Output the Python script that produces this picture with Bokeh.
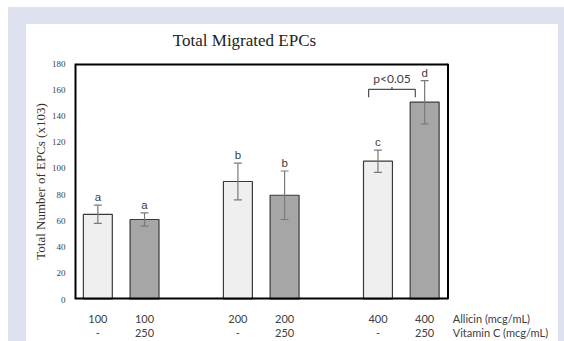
from bokeh.plotting import figure
from bokeh.models import Range1d, FixedTicker, LinearAxis, ColumnDataSource
from bokeh.core.properties import value
from bokeh.embed import file_html
from bokeh.resources import INLINE

# ---- data ----
allicin = ["100", "100", "200", "200", "400", "400"]
vitamin_c = ["-", "250", "-", "250", "-", "250"]
slots = [0, 1, 3, 4, 6, 7]          # 8 category slots, two empty gaps
means = [65, 61, 90, 79.5, 105.5, 150.5]
errors = [7, 5, 14, 18.5, 8.5, 16.5]
letters = ["a", "a", "b", "b", "c", "d"]
y_ticks = [0, 20, 40, 60, 80, 100, 120, 140, 160, 180]
row_names = ["Allicin (mcg/mL)", "Vitamin C (mcg/mL)"]
title_text = "Total Migrated EPCs"
y_label = "Total Number of EPCs (x103)"
sig_text = "p<0.05"

N_SLOTS = 8
Y_MAX = 180
X_END = 9.403                      # frame extends right so row names can sit there
ROW_NAME_POS = [8.93, 9.124]       # centres of the row-name labels
TITLE_POS = 3.641

x = [s + 0.5 for s in slots]
lo = [m - e for m, e in zip(means, errors)]
hi = [m + e for m, e in zip(means, errors)]
fills = ["#efefef" if v == "-" else "#a6a6a6" for v in vitamin_c]
cap = 0.085

src = ColumnDataSource(dict(x=x, top=means, lo=lo, hi=hi, fill=fills, letter=letters,
                            cl=[xi - cap for xi in x], cr=[xi + cap for xi in x]))

p = figure(width=564, height=341, output_backend="svg", toolbar_location=None,
           x_range=Range1d(0, X_END), y_range=Range1d(0, Y_MAX),
           min_border_left=74, min_border_right=51, min_border_top=63, min_border_bottom=41,
           background_fill_color=None, border_fill_color=None)
p.title.visible = False
p.styles = {"background-color": "white",
            "box-shadow": "inset 8px 7px 0 0 #ffffff, inset 26px 24px 0 0 #dee1ef, "
                          "inset -6px 0 0 0 #dee1ef"}
p.xgrid.visible = False
p.ygrid.visible = False
p.outline_line_color = None

# bars
p.vbar(x="x", top="top", bottom=0, width=0.62, fill_color="fill",
       line_color="#3a3a3a", line_width=1.2, source=src)

# plot-area box (left/top/bottom sit on the frame edge, so half of the width is clipped)
p.line(x=[N_SLOTS, 0, 0, N_SLOTS], y=[0, 0, Y_MAX, Y_MAX], line_color="black", line_width=4)
p.line(x=[N_SLOTS, N_SLOTS], y=[0, Y_MAX], line_color="black", line_width=2)

# error bars
p.segment(x0="x", y0="lo", x1="x", y1="hi", line_color="#7a7a7a", line_width=1.2, source=src)
p.segment(x0="cl", y0="hi", x1="cr", y1="hi", line_color="#7a7a7a", line_width=1.2, source=src)
p.segment(x0="cl", y0="lo", x1="cr", y1="lo", line_color="#7a7a7a", line_width=1.2, source=src)

# significance letters
p.text(x="x", y="hi", text="letter", source=src, text_align="center", text_baseline="bottom",
       y_offset=-2, text_font=value("Liberation Sans"), text_font_size=value("11.5px"),
       text_color="#404040")

# bracket between the last two bars
xa = x[4] - 0.2
xb = x[5] - 0.2
xm = (xa + xb) / 2
p.line(x=[xa, xa, xb, xb], y=[154.2, 160.3, 160.3, 154.2], line_color="#505050", line_width=1.2)
p.segment(x0=[xm], y0=[160.3], x1=[xm], y1=[162.0], line_color="#505050", line_width=1.2)
p.text(x=[xm], y=[163.0], text=[sig_text], text_align="center", text_baseline="bottom",
       text_font=value("Lato"), text_font_size=value("12px"), text_color="#404040")

# y axis
ya = p.yaxis[0]
ya.ticker = FixedTicker(ticks=y_ticks)
ya.axis_line_color = None
ya.major_tick_line_color = None
ya.minor_tick_line_color = None
ya.major_tick_out = 0
ya.major_tick_in = 0
ya.major_label_standoff = 9
ya.major_label_text_font = "Liberation Serif"
ya.major_label_text_font_size = "9px"
ya.major_label_text_color = "#404040"
ya.axis_label = y_label
ya.axis_label_text_font = "Liberation Serif"
ya.axis_label_text_font_size = "13px"
ya.axis_label_text_font_style = "normal"
ya.axis_label_text_color = "#333333"
ya.axis_label_standoff = 1


def style_x(ax, standoff, font="Lato", size="11px", color="#404040"):
    ax.axis_label = None
    ax.axis_label_standoff = 0
    ax.axis_line_color = None
    ax.major_tick_line_color = None
    ax.minor_tick_line_color = None
    ax.major_tick_out = 0
    ax.major_tick_in = 0
    ax.major_label_standoff = standoff
    ax.major_label_text_font = font
    ax.major_label_text_font_size = size
    ax.major_label_text_color = color


# x axes: two rows of tick labels, each followed by its row name
row1 = dict(zip(x, allicin))
row1[ROW_NAME_POS[0]] = row_names[0]
xa1 = p.xaxis[0]
xa1.ticker = FixedTicker(ticks=x + [ROW_NAME_POS[0]])
xa1.major_label_overrides = row1
style_x(xa1, 12)

row2 = dict(zip(x, vitamin_c))
row2[ROW_NAME_POS[1]] = row_names[1]
xa2 = LinearAxis(ticker=FixedTicker(ticks=x + [ROW_NAME_POS[1]]), major_label_overrides=row2)
style_x(xa2, -2)
p.add_layout(xa2, "below")

# title as a single centred label above the plot area
xt = LinearAxis(ticker=FixedTicker(ticks=[TITLE_POS]), major_label_overrides={TITLE_POS: title_text})
style_x(xt, 14, font="Liberation Serif", size="17px", color="#222222")
p.add_layout(xt, "above")

open("out.html", "w").write(file_html(p, INLINE))
